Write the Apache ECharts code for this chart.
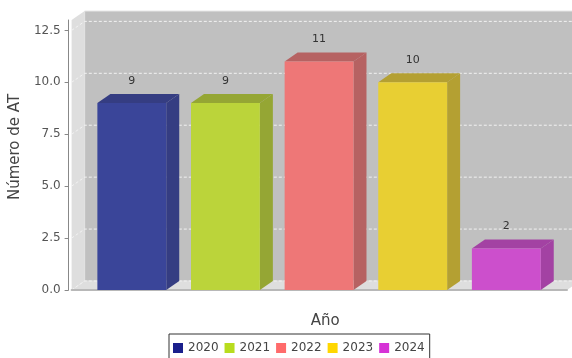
<!DOCTYPE html>
<html>
<head>
<meta charset="utf-8">
<script src="https://cdn.jsdelivr.net/npm/echarts@6/dist/echarts.min.js"></script>
<style>
  html, body { margin: 0; padding: 0; background: #fff; }
  #chart { width: 572px; height: 358px; }
</style>
</head>
<body>
<div id="chart"></div>
<script>
// datos del grafico
const categories = ['Año'];
const years = ['2020', '2021', '2022', '2023', '2024'];
const counts = [9, 9, 11, 10, 2];
const yTicks = [0, 2.5, 5, 7.5, 10, 12.5];
const yMax = 13;

// colores: leyenda (puros) y barra (cara frontal / lateral)
const legendColors = ['#1a1f8c', '#b8dc1e', '#ff6b6b', '#ffd700', '#d633d6'];
const frontColors = ['#3a4599', '#bbd43a', '#ee7777', '#e8cf33', '#cc4fcc'];
const sideColors = ['#353d82', '#95a634', '#b66262', '#b4a032', '#a342a3'];

// desplazamiento 3D
const DX = 13, DY = -9;

function renderWalls(params, api) {
  const c0 = api.coord([0, 0]);
  const cTop = api.coord([0, yMax]);
  const band = api.size([1, 0])[0];
  const l = c0[0] - band / 2, r = c0[0] + band / 2;
  const b = c0[1], t = cTop[1];
  const children = [
    // pared del fondo
    { type: 'rect', shape: { x: l + DX, y: t + DY, width: band, height: b - t },
      style: { fill: '#c0c0c0', stroke: '#e6e6e6', lineWidth: 1 } },
    // pared izquierda
    { type: 'polygon', shape: { points: [[l, t], [l + DX, t + DY], [l + DX, b + DY], [l, b]] },
      style: { fill: '#dedede' } },
    // suelo
    { type: 'polygon', shape: { points: [[l, b], [r, b], [r + DX, b + DY], [l + DX, b + DY]] },
      style: { fill: '#dedede' } }
  ];
  yTicks.forEach(v => {
    const y = api.coord([0, v])[1];
    children.push({ type: 'polyline',
      shape: { points: [[l, y], [l + DX, y + DY], [r + DX, y + DY]] },
      style: { stroke: '#f2f2f2', lineWidth: 1, lineDash: [3, 2], fill: null } });
  });
  return { type: 'group', children };
}

function makeBarRenderer(i) {
  return function (params, api) {
    const v = api.value(1);
    const c0 = api.coord([0, 0]);
    const cv = api.coord([0, v]);
    const band = api.size([1, 0])[0];
    const w = band * 0.139;
    const x = c0[0] - band / 2 + band * 0.052 + i * band * 0.189;
    const b = c0[1], t = cv[1];
    return {
      type: 'group',
      children: [
        { type: 'polygon', shape: { points: [[x + w, t], [x + w + DX, t + DY], [x + w + DX, b + DY], [x + w, b]] },
          style: { fill: sideColors[i] } },
        { type: 'polygon', shape: { points: [[x, t], [x + DX, t + DY], [x + w + DX, t + DY], [x + w, t]] },
          style: { fill: sideColors[i] } },
        { type: 'rect', shape: { x: x, y: t, width: w, height: b - t },
          style: { fill: frontColors[i] } },
        { type: 'text', x: x + w / 2, y: t - 22,
          style: { text: String(v), fill: '#333', font: '11px "DejaVu Sans"', align: 'center', verticalAlign: 'middle' } }
      ]
    };
  };
}

const chart = echarts.init(document.getElementById('chart'));

const series = [{
  type: 'custom',
  name: 'fondo',
  silent: true,
  z: 0,
  data: [[0, 0]],
  renderItem: renderWalls
}].concat(years.map((y, i) => ({
  type: 'custom',
  name: y,
  z: 2,
  itemStyle: { color: legendColors[i] },
  data: [[0, counts[i]]],
  renderItem: makeBarRenderer(i)
})));

chart.setOption({
  animation: false,
  backgroundColor: '#fff',
  textStyle: { fontFamily: 'DejaVu Sans' },
  grid: { left: 70, right: 5, top: 20, bottom: 68 },
  xAxis: {
    type: 'category',
    data: categories,
    name: 'Año',
    nameLocation: 'middle',
    nameGap: 20,
    nameTextStyle: { fontSize: 15, color: '#444', padding: [0, 0, 0, 12] },
    offset: 4,
    axisLine: { lineStyle: { color: '#b8b8b8', width: 2 } },
    axisTick: { alignWithLabel: true, length: 3, lineStyle: { color: '#888' } },
    axisLabel: { show: false },
    splitLine: { show: false }
  },
  yAxis: {
    type: 'value',
    min: 0,
    max: yMax,
    offset: 3,
    name: 'Número de AT',
    nameLocation: 'middle',
    nameGap: 42,
    nameTextStyle: { fontSize: 15, color: '#444', padding: [0, 0, 0, 16] },
    axisLine: { show: true, lineStyle: { color: '#888' } },
    axisTick: { show: true, length: 4, customValues: yTicks, lineStyle: { color: '#888' } },
    axisLabel: { fontSize: 12, color: '#555', margin: 8, customValues: yTicks,
      formatter: v => v.toFixed(1) },
    splitLine: { show: false }
  },
  legend: {
    left: 169,
    top: 334,
    data: years.map((y, i) => ({ name: y, itemStyle: { color: legendColors[i] } })),
    icon: 'rect',
    itemWidth: 10,
    itemHeight: 10,
    itemGap: 6,
    padding: [8, 5, 6, 4],
    borderColor: '#333',
    borderWidth: 1,
    borderRadius: 0,
    textStyle: { fontSize: 12, color: '#444' }
  },
  series: series
});
</script>
</body>
</html>
